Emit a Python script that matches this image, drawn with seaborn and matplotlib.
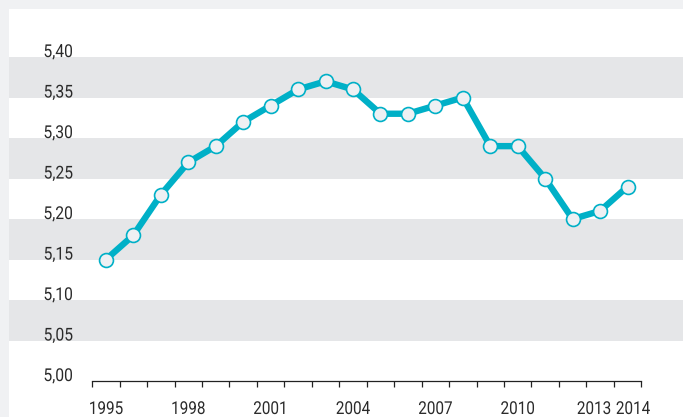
import numpy as np
import pandas as pd
import matplotlib
matplotlib.use("Agg")
import matplotlib.pyplot as plt
import seaborn as sns
from matplotlib import patheffects
from matplotlib.transforms import Affine2D

# Data
years = [1995, 1996, 1997, 1998, 1999, 2000, 2001, 2002, 2003, 2004,
         2005, 2006, 2007, 2008, 2009, 2010, 2011, 2012, 2013, 2014]
values = [5.15, 5.18, 5.23, 5.27, 5.29, 5.32, 5.34, 5.36, 5.37, 5.36,
          5.33, 5.33, 5.34, 5.35, 5.29, 5.29, 5.25, 5.20, 5.21, 5.24]
year_labels = [1995, 1998, 2001, 2004, 2007, 2010, 2013, 2014]
y_ticks = [5.00, 5.05, 5.10, 5.15, 5.20, 5.25, 5.30, 5.35, 5.40]

TEAL = '#00b0c7'
BAND = '#e5e6e8'
OUTER = '#f0f1f3'
TEXT = '#2a2a2a'


class Narrow(patheffects.AbstractPathEffect):
    """Squeeze text horizontally (no condensed font is installed)."""

    def __init__(self, sx=0.86, anchor='center', dx=0):
        super().__init__()
        self.sx = sx
        self.anchor = anchor
        self.dx = dx

    def draw_path(self, renderer, gc, tpath, affine, rgbFace=None):
        ext = tpath.get_extents()
        x0 = ext.x1 if self.anchor == 'right' else (ext.x0 + ext.x1) / 2
        squeeze = Affine2D().translate(-x0, 0).scale(self.sx, 1).translate(x0, 0)
        renderer.draw_path(gc, tpath, squeeze + affine + Affine2D().translate(self.dx, 0),
                           rgbFace)


def draw_chart(data):
    """Line chart with alternating grey bands and white-filled markers."""
    sns.set_style("white")
    plt.rcParams['font.family'] = ['Roboto', 'DejaVu Sans']

    fig = plt.figure(figsize=(6.83, 4.17), dpi=100)
    fig.patch.set_facecolor(OUTER)
    ax = fig.add_axes([9 / 683, 0, 674 / 683, 408 / 417])
    ax.set_facecolor('white')

    # grey bands every other 0.05 step
    for lo in y_ticks[1::2]:
        ax.axhspan(lo, lo + 0.05, color=BAND, lw=0, zorder=0)

    sns.lineplot(data=data, x='year', y='value', color=TEAL, lw=4.6,
                 marker='o', markersize=10, markerfacecolor='#eef0f3',
                 markeredgecolor=TEAL, markeredgewidth=1.2, ax=ax, zorder=3)

    ax.set_xlim(years[0] - 3.53, years[-1] + 2.02)
    ax.set_ylim(4.9556, 5.4593)

    for side in ['left', 'right', 'top']:
        ax.spines[side].set_visible(False)
    ax.spines['bottom'].set_position(('data', 5.0))
    ax.spines['bottom'].set_bounds(years[0] - 0.5, years[-1] + 0.5)
    ax.spines['bottom'].set_color('#222222')
    ax.spines['bottom'].set_linewidth(0.9)

    # tick marks between the years, labels as separate text
    ax.set_xticks([])
    ax.set_xticks(np.append(np.array(years) - 0.5, years[-1] + 0.5), minor=True)
    ax.tick_params(axis='x', which='minor', length=4.2, width=0.9,
                   color='#222222', direction='out', bottom=True)
    nudge = {2013: -6, 2014: 5.5}
    for yr in year_labels:
        ax.text(yr + nudge.get(yr, 0) / 27.45, 0.0417, str(yr),
                transform=ax.get_xaxis_transform(),
                ha='center', va='top', fontsize=12.8, color=TEXT,
                path_effects=[Narrow(0.86, 'center')])

    ax.set_yticks(y_ticks)
    ax.set_yticklabels([f"{v:.2f}".replace('.', ',') for v in y_ticks],
                       fontsize=12.8, color=TEXT,
                       path_effects=[Narrow(0.88, 'right')])
    ax.tick_params(axis='y', length=0, pad=-46)
    for lbl in ax.get_yticklabels():
        lbl.set_va('baseline')

    ax.set_xlabel('')
    ax.set_ylabel('')
    ax.grid(False)
    fig.savefig('out.png', dpi=100, facecolor=fig.get_facecolor())


df = pd.DataFrame({'year': years, 'value': values})
draw_chart(df)
